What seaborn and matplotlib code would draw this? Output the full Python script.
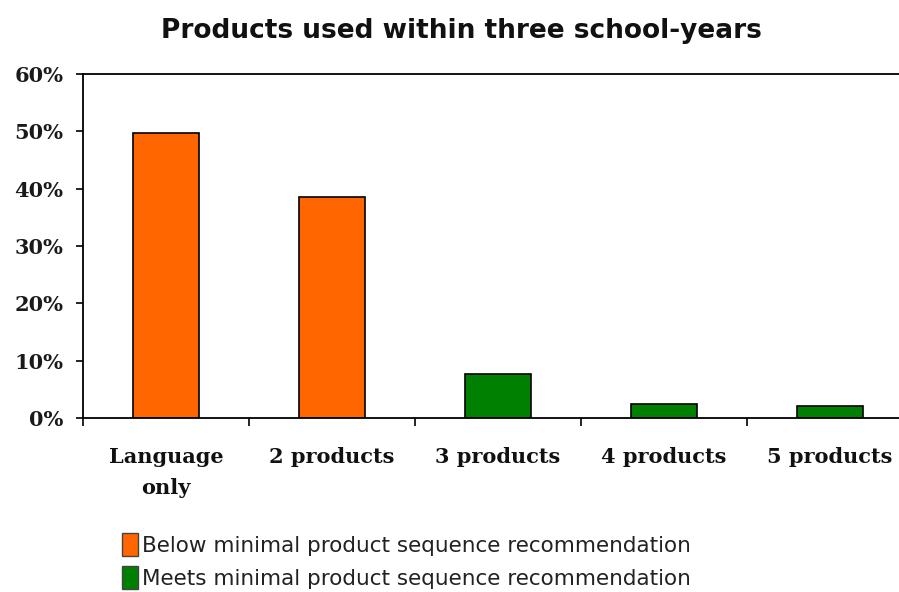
import matplotlib
matplotlib.use("Agg")
import matplotlib.pyplot as plt
import seaborn as sns
import pandas as pd
from matplotlib.patches import Patch

categories = ["Language\nonly", "2 products", "3 products", "4 products", "5 products"]
values = [49.7, 38.6, 7.6, 2.4, 2.1]
groups = ["Below minimal product sequence recommendation",
          "Below minimal product sequence recommendation",
          "Meets minimal product sequence recommendation",
          "Meets minimal product sequence recommendation",
          "Meets minimal product sequence recommendation"]
group_names = ["Below minimal product sequence recommendation",
               "Meets minimal product sequence recommendation"]
colors = ["#FF6600", "#008000"]
yticks = [0, 10, 20, 30, 40, 50, 60]
title = "Products used within three school-years"

sns.set_theme(style="white")
plt.rcParams['font.family'] = ['DejaVu Sans']

df = pd.DataFrame({"cat": categories, "val": values, "grp": groups})

fig = plt.figure(figsize=(8.99, 5.92), dpi=100)
ax = fig.add_axes([83/899, 1-418/592, 830/899, 344/592])

sns.barplot(data=df, x="cat", y="val", hue="grp", hue_order=group_names,
            palette=dict(zip(group_names, colors)), dodge=False, width=0.4,
            saturation=1, edgecolor="black", linewidth=1.2, ax=ax, legend=False)

ax.set_xlim(-0.5, 4.5)
ax.set_ylim(0, 60)
ax.set_yticks(yticks)
ax.set_yticklabels([f"{t}%" for t in yticks], fontfamily="DejaVu Serif",
                   fontweight="bold", fontsize=15)
ax.tick_params(axis="y", direction="out", length=5, width=1.2, color="black",
               left=True, pad=9, labelcolor="#1a1a1a")

# category boundaries as major ticks, labels on minor ticks
ax.set_xticks([i - 0.5 for i in range(len(categories) + 1)])
ax.set_xticklabels([""] * (len(categories) + 1))
ax.set_xticks(range(len(categories)), minor=True)
ax.set_xticklabels(categories, minor=True, fontfamily="DejaVu Serif",
                   fontweight="bold", fontsize=15, linespacing=1.7)
ax.tick_params(axis="x", which="major", direction="out", length=6, width=1.2,
               color="black", bottom=True)
ax.tick_params(axis="x", which="minor", length=0, pad=21, labelcolor="#111111")

for s in ["left", "bottom", "top"]:
    ax.spines[s].set_visible(True)
    ax.spines[s].set_color("black")
    ax.spines[s].set_linewidth(1.3)
ax.spines["right"].set_visible(False)
ax.set_xlabel("")
ax.set_ylabel("")
ax.grid(False)

fig.text(461/899, 1-31/592, title, ha="center", va="center", fontsize=19,
         fontweight="bold", color="#111111")

handles = [Patch(facecolor=c, edgecolor="#444444", label=g) for c, g in zip(colors, group_names)]
fig.legend(handles=handles, loc="upper left", bbox_to_anchor=(113/899, 1-524/592),
           frameon=False, handlelength=0.75, handleheight=1.3,
           handletextpad=0.2, labelspacing=0.45, borderaxespad=0,
           labelcolor="#222222",
           prop={"family": "DejaVu Sans", "size": 15.5})

fig.savefig("out.png", dpi=100)
